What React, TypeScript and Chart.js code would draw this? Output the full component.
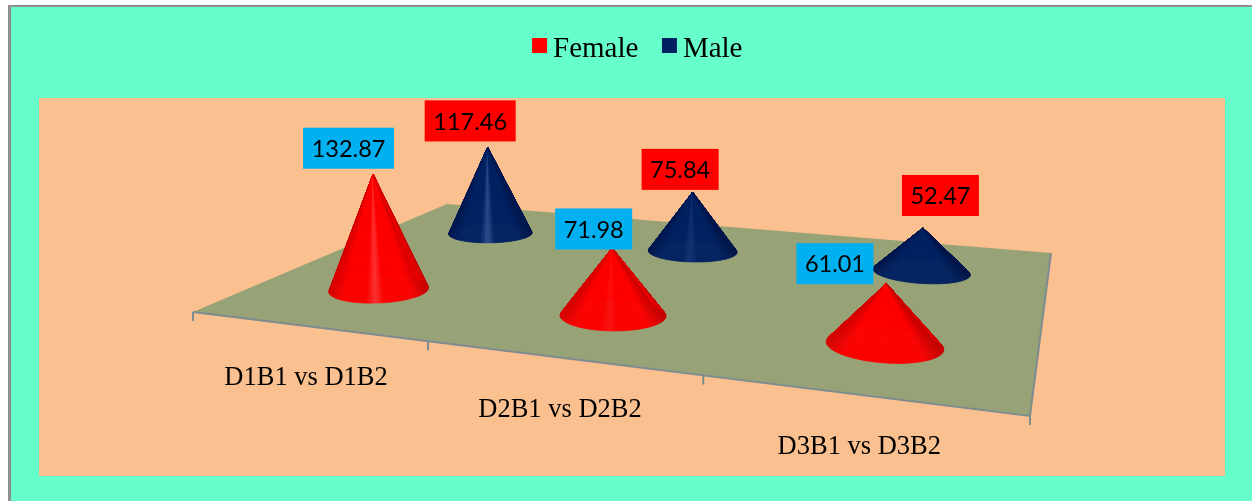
import React, { useEffect, useRef } from "react";
import { Chart, registerables } from "chart.js";

Chart.register(...registerables);

const categories = ["D1B1 vs D1B2", "D2B1 vs D2B2", "D3B1 vs D3B2"];
const femaleValues = [132.87, 71.98, 61.01];
const maleValues = [117.46, 75.84, 52.47];
const femaleLabels = ["132.87", "71.98", "61.01"];
const maleLabels = ["117.46", "75.84", "52.47"];

// Presentation only: where each hand-placed value box sits relative to its cone tip.
const femaleBoxPlacement = [[-24.5, 5.5], [-18.5, -1.4], [-51.5, -0.7]];
const maleBoxPlacement = [[-17.5, 5.8], [-12.5, 2.3], [17.5, 12]];

const COLORS = {
  page: "#ffffff",
  frame: "#8f8f8f",
  panel: "#66FFCC",
  plot: "#FBC08F",
  floor: "#97A277",
  edge: "#7E8C90",
  female: "#FF0000",
  male: "#002060",
  boxFemale: "#00B0F0",
  boxMale: "#FF0000",
};

// Floor corners of the 3D view, in canvas pixels.
const FLOOR = {
  frontLeft: [193, 312],
  frontRight: [1030, 416],
  backRight: [1051, 253],
  backLeft: [447, 204],
};

function makeProjection() {
  const [x0, y0] = FLOOR.frontLeft;
  const [x1, y1] = FLOOR.frontRight;
  const [x2, y2] = FLOOR.backRight;
  const [x3, y3] = FLOOR.backLeft;
  const dx1 = x1 - x2, dx2 = x3 - x2, sx = x0 - x1 + x2 - x3;
  const dy1 = y1 - y2, dy2 = y3 - y2, sy = y0 - y1 + y2 - y3;
  const det = dx1 * dy2 - dx2 * dy1;
  const g = (sx * dy2 - dx2 * sy) / det;
  const h = (dx1 * sy - sx * dy1) / det;
  const a = x1 - x0 + g * x1, b = x3 - x0 + h * x3;
  const d = y1 - y0 + g * y1, e = y3 - y0 + h * y3;
  return (u: number, v: number) => {
    const w = 1 + g * u + h * v;
    return { x: (a * u + b * v + x0) / w, y: (d * u + e * v + y0) / w, w };
  };
}
const project = makeProjection();

const DEPTH = [0.25, 0.75];
const RADIUS_U = 0.066;
const RADIUS_V = 0.093;
const HEIGHT_SCALE = 0.365;

function mix(c1: number[], c2: number[], t: number) {
  return `rgb(${c1.map((c, i) => Math.round(c + (c2[i] - c) * t)).join(",")})`;
}
const RAMPS = [
  { edgeL: [212, 0, 0], mid: [252, 0, 0], hi: [255, 50, 50], edgeR: [196, 0, 0] },
  { edgeL: [0, 24, 80], mid: [2, 34, 98], hi: [44, 74, 142], edgeR: [0, 20, 72] },
];

function shade(ramp: any, t: number, strength: number) {
  const hi = [0, 1, 2].map((i) => ramp.mid[i] + (ramp.hi[i] - ramp.mid[i]) * strength);
  if (t < 0.14) return mix(ramp.edgeL, ramp.mid, t / 0.14);
  if (t < 0.47) {
    const k = Math.max(0, (t - 0.38) / 0.09);
    return mix(ramp.mid, hi, k);
  }
  if (t < 0.56) return mix(hi, ramp.mid, (t - 0.47) / 0.09);
  if (t < 0.84) return mix(ramp.mid, ramp.mid, 0);
  return mix(ramp.mid, ramp.edgeR, (t - 0.84) / 0.16);
}

function coneGeometry(chart: any, di: number, i: number) {
  const el = chart.getDatasetMeta(di).data[i];
  const area = chart.chartArea;
  const u = (el.x - area.left) / (area.right - area.left);
  const v = DEPTH[di];
  const c = project(u, v);
  const height = ((el.base - el.y) * HEIGHT_SCALE) / c.w;
  const lean = height * (c.x - 686) * 0.000166;
  return { u, v, c, height, apex: { x: c.x + lean, y: c.y - height } };
}

function drawCone(ctx: CanvasRenderingContext2D, chart: any, di: number, i: number) {
  const { u, v, height, apex } = coneGeometry(chart, di, i);
  const N = 180;
  const pts: { x: number; y: number }[] = [];
  for (let k = 0; k < N; k++) {
    const t = (k / N) * Math.PI * 2;
    pts.push(project(u + RADIUS_U * Math.cos(t), v + RADIUS_V * Math.sin(t)));
  }
  const xs = pts.map((p) => p.x);
  const xMin = Math.min(...xs), xMax = Math.max(...xs);
  const strength = Math.max(0, Math.min(1, (height / (xMax - xMin) - 0.5) / 0.45));
  const ramp = RAMPS[di];
  ctx.save();
  ctx.lineWidth = 0.7;
  ctx.lineJoin = "round";
  // far side of the base first (k = 0..N/2), then the near side
  for (let k = 0; k < N; k++) {
    const p = pts[k], q = pts[(k + 1) % N];
    const t = ((p.x + q.x) / 2 - xMin) / (xMax - xMin);
    const col = shade(ramp, t, strength);
    ctx.fillStyle = col;
    ctx.strokeStyle = col;
    ctx.beginPath();
    ctx.moveTo(apex.x, apex.y);
    ctx.lineTo(p.x, p.y);
    ctx.lineTo(q.x, q.y);
    ctx.closePath();
    ctx.fill();
    ctx.stroke();
  }
  ctx.restore();
}

const legendMarkers: Record<string, HTMLCanvasElement> = {};
function legendMarker(color: string) {
  if (!legendMarkers[color]) {
    const c = document.createElement("canvas");
    c.width = 20;
    c.height = 23;
    const g = c.getContext("2d") as CanvasRenderingContext2D;
    g.fillStyle = color;
    g.fillRect(4, 0, 15, 15);
    legendMarkers[color] = c;
  }
  return legendMarkers[color];
}

const scenePlugin = {
  id: "scene",
  beforeDraw(chart: any) {
    const { ctx, width, height, chartArea: a } = chart;
    ctx.save();
    ctx.fillStyle = COLORS.page;
    ctx.fillRect(0, 0, width, height);
    ctx.fillStyle = COLORS.frame;
    ctx.fillRect(8, 5, width - 8, height - 5);
    ctx.fillStyle = COLORS.panel;
    ctx.fillRect(11, 7, width - 11, height - 7);
    ctx.fillStyle = COLORS.plot;
    ctx.fillRect(a.left, a.top, a.right - a.left, a.bottom - a.top);
    ctx.restore();
  },
  beforeDatasetsDraw(chart: any) {
    const { ctx, width, height } = chart;
    const n = chart.data.labels.length;
    const fl = FLOOR;
    ctx.save();
    // floor
    ctx.fillStyle = COLORS.floor;
    ctx.beginPath();
    ctx.moveTo(fl.frontLeft[0], fl.frontLeft[1]);
    ctx.lineTo(fl.frontRight[0], fl.frontRight[1]);
    ctx.lineTo(fl.backRight[0], fl.backRight[1]);
    ctx.lineTo(fl.backLeft[0], fl.backLeft[1]);
    ctx.closePath();
    ctx.fill();
    // front and right edges, ticks
    ctx.strokeStyle = COLORS.edge;
    ctx.lineWidth = 2;
    ctx.beginPath();
    ctx.moveTo(fl.frontLeft[0], fl.frontLeft[1]);
    ctx.lineTo(fl.frontRight[0], fl.frontRight[1]);
    ctx.lineTo(fl.backRight[0], fl.backRight[1]);
    for (let i = 0; i <= n; i++) {
      const p = project(i / n, 0);
      ctx.moveTo(p.x, p.y);
      ctx.lineTo(p.x, p.y + 9);
    }
    ctx.stroke();
    // category labels below the front edge
    ctx.fillStyle = "#000";
    ctx.font = '26.5px "Liberation Serif"';
    ctx.textAlign = "center";
    ctx.textBaseline = "middle";
    chart.data.labels.forEach((label: string, i: number) => {
      const p = project((i + 0.5) / n, 0);
      ctx.fillText(label, p.x, p.y + 52);
    });
    // cones, far ones first, softened a little on an off-screen layer
    const cones: { di: number; i: number; w: number }[] = [];
    chart.data.datasets.forEach((_: any, di: number) => {
      chart.data.labels.forEach((_l: string, i: number) => {
        cones.push({ di, i, w: coneGeometry(chart, di, i).c.w });
      });
    });
    cones.sort((p, q) => q.w - p.w);
    const layer = document.createElement("canvas");
    layer.width = width;
    layer.height = height;
    const lctx = layer.getContext("2d") as CanvasRenderingContext2D;
    cones.forEach((c) => drawCone(lctx, chart, c.di, c.i));
    ctx.save();
    ctx.filter = "blur(0.6px)";
    ctx.drawImage(layer, 0, 0);
    ctx.restore();
    // value boxes
    ctx.font = '23.5px "Lato"';
    cones.forEach(({ di, i }) => {
      const { apex } = coneGeometry(chart, di, i);
      const text = (di === 0 ? femaleLabels : maleLabels)[i];
      const [dx, gap] = (di === 0 ? femaleBoxPlacement : maleBoxPlacement)[i];
      const boxW = text.length === 6 ? 91 : 77;
      const boxH = 41;
      const cx = apex.x + dx;
      const bottom = apex.y - gap;
      ctx.fillStyle = di === 0 ? COLORS.boxFemale : COLORS.boxMale;
      ctx.fillRect(cx - boxW / 2, bottom - boxH, boxW, boxH);
      ctx.fillStyle = "#000";
      ctx.fillText(text, cx, bottom - boxH / 2 + 1);
    });
    ctx.restore();
    return false;
  },
  afterLayout(chart: any) {
    chart.legend.left += 8;
    chart.legend.right += 8;
  },
};

export default function App() {
  const ref = useRef<HTMLCanvasElement>(null);
  useEffect(() => {
    const chart = new Chart(ref.current as HTMLCanvasElement, {
      type: "bar",
      data: {
        labels: categories,
        datasets: [
          { label: "Female", data: femaleValues, backgroundColor: COLORS.female, grouped: false },
          { label: "Male", data: maleValues, backgroundColor: COLORS.male, grouped: false },
        ],
      },
      options: {
        animation: false,
        responsive: false,
        events: [],
        layout: { padding: { top: 6, left: 39, right: 27, bottom: 25 } },
        plugins: {
          tooltip: { enabled: false },
          legend: {
            position: "top",
            labels: {
              usePointStyle: true,
              boxWidth: 1,
              boxHeight: 15,
              padding: 29,
              color: "#000",
              font: { family: "Liberation Serif", size: 29 },
              generateLabels(c: any) {
                const items = Chart.defaults.plugins.legend.labels.generateLabels(c);
                items.forEach((it: any) => {
                  it.pointStyle = legendMarker(it.fillStyle);
                });
                return items;
              },
            },
          },
        },
        scales: {
          x: {
            position: "top",
            grid: { display: false },
            border: { display: false },
            ticks: { display: false },
            afterFit(s: any) {
              s.height = 24;
            },
          },
          y: { display: false, min: 0, max: 150 },
        },
      } as any,
      plugins: [scenePlugin],
    });
    return () => chart.destroy();
  }, []);
  return (
    <canvas
      ref={ref}
      width={1252}
      height={501}
      style={{ position: "fixed", left: 0, top: 0, width: 1252, height: 501 }}
    />
  );
}
